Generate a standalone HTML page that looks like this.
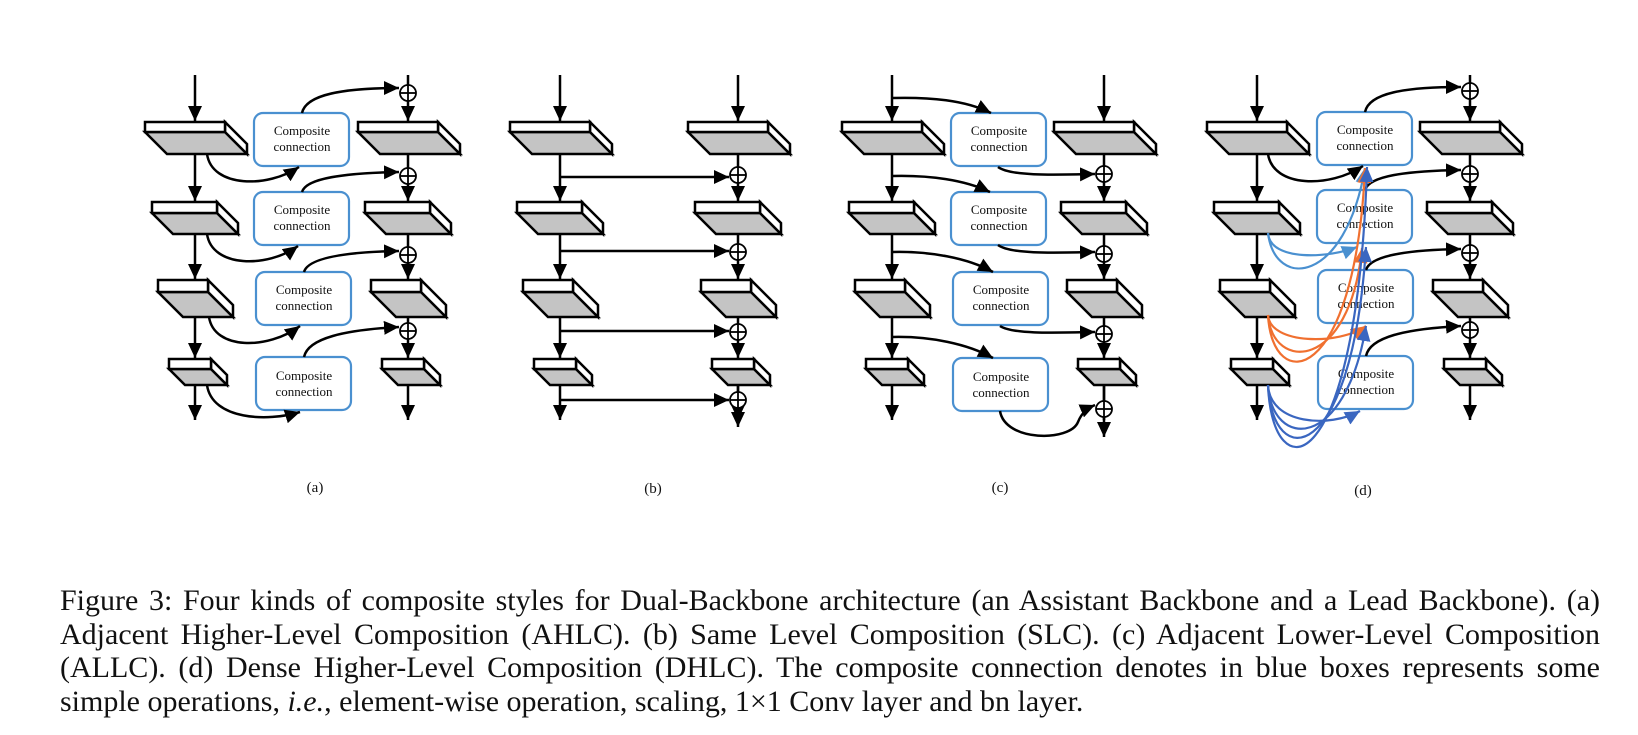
<!DOCTYPE html>
<html><head><meta charset="utf-8"><style>
body{margin:0;background:#fff;width:1638px;height:735px;overflow:hidden;position:relative}
svg{position:absolute;left:0;top:0}
.cap{position:absolute;left:60px;width:1540px;top:584px;font-family:"Liberation Serif",serif;font-size:30px;line-height:33.5px;color:#111}
.cap div{text-align:justify;text-align-last:justify;white-space:nowrap}
.cap div.last{text-align-last:left}
</style></head><body>
<svg width="1638" height="735" viewBox="0 0 1638 735" xmlns="http://www.w3.org/2000/svg">
<defs>
<marker id="ak" markerUnits="userSpaceOnUse" markerWidth="16" markerHeight="14" refX="15" refY="7" orient="auto"><path d="M0,0 L15,7 L0,14 z" fill="#000"/></marker>
<marker id="al" markerUnits="userSpaceOnUse" markerWidth="16" markerHeight="14" refX="15" refY="7" orient="auto"><path d="M0,0 L15,7 L0,14 z" fill="#4a90d0"/></marker>
<marker id="ao" markerUnits="userSpaceOnUse" markerWidth="16" markerHeight="14" refX="15" refY="7" orient="auto"><path d="M0,0 L15,7 L0,14 z" fill="#f07030"/></marker>
<marker id="ad" markerUnits="userSpaceOnUse" markerWidth="16" markerHeight="14" refX="15" refY="7" orient="auto"><path d="M0,0 L15,7 L0,14 z" fill="#3a66c0"/></marker>
<g id="b1" stroke="#000" stroke-width="2.5" stroke-linejoin="miter"><polygon points="0,10 80,10 102,32 22,32" fill="#c4c4c4"/><polygon points="80,0 102,22 102,32 80,10" fill="#fff"/><rect x="0" y="0" width="80" height="10" fill="#fff"/></g>
<g id="b2" stroke="#000" stroke-width="2.5"><polygon points="0,11 65,11 86,32 21,32" fill="#c4c4c4"/><polygon points="65,0 86,21 86,32 65,11" fill="#fff"/><rect x="0" y="0" width="65" height="11" fill="#fff"/></g>
<g id="b3" stroke="#000" stroke-width="2.5"><polygon points="0,12 50,12 75,37 25,37" fill="#c4c4c4"/><polygon points="50,0 75,25 75,37 50,12" fill="#fff"/><rect x="0" y="0" width="50" height="12" fill="#fff"/></g>
<g id="b4" stroke="#000" stroke-width="2.5"><polygon points="0,10 42,10 58,26 16,26" fill="#c4c4c4"/><polygon points="42,0 58,16 58,26 42,10" fill="#fff"/><rect x="0" y="0" width="42" height="10" fill="#fff"/></g>
<g id="colL" fill="none" stroke="#000" stroke-width="2.5">
<line x1="50" y1="75" x2="50" y2="121" marker-end="url(#ak)"/>
<line x1="50" y1="154" x2="50" y2="201" marker-end="url(#ak)"/>
<line x1="50" y1="234" x2="50" y2="279" marker-end="url(#ak)"/>
<line x1="50" y1="317" x2="50" y2="358" marker-end="url(#ak)"/>
<line x1="50" y1="385" x2="50" y2="420" marker-end="url(#ak)"/>
<use href="#b1" x="0" y="122"/><use href="#b2" x="7" y="202"/><use href="#b3" x="13" y="280"/><use href="#b4" x="24" y="359"/>
</g>
<g id="cbox"><rect x="0" y="0" width="95" height="53" rx="9" fill="#fff" stroke="#4a90d0" stroke-width="2.2"/></g>
<g id="plus" fill="#fff" stroke="#000" stroke-width="1.8"><circle cx="0" cy="0" r="8"/><line x1="-8" y1="0" x2="8" y2="0"/><line x1="0" y1="-8" x2="0" y2="8"/></g>
</defs>
<g font-family="Liberation Serif, serif" font-size="13" text-anchor="middle" fill="#111">

<!-- (a) -->
<use href="#colL" x="145"/>
<use href="#colL" x="358"/>
<use href="#plus" x="408" y="93"/><use href="#plus" x="408" y="176"/><use href="#plus" x="408" y="255"/><use href="#plus" x="408" y="331"/>
<use href="#cbox" x="254" y="113"/><use href="#cbox" x="254" y="192"/><use href="#cbox" x="256" y="272"/><use href="#cbox" x="256" y="357"/>
<text x="302" y="135">Composite</text><text x="302" y="151">connection</text>
<text x="302" y="214">Composite</text><text x="302" y="230">connection</text>
<text x="304" y="294">Composite</text><text x="304" y="310">connection</text>
<text x="304" y="380">Composite</text><text x="304" y="396">connection</text>
<g fill="none" stroke="#000" stroke-width="2.5">
<path d="M302,113 C306,94 345,88 399,88" marker-end="url(#ak)"/>
<path d="M302,192 C306,178 345,173 399,172" marker-end="url(#ak)"/>
<path d="M304,272 C308,258 345,252 399,251" marker-end="url(#ak)"/>
<path d="M304,357 C308,338 345,330 399,327" marker-end="url(#ak)"/>
<path d="M207,154 C212,188 268,188 299,167" marker-end="url(#ak)"/>
<path d="M207,234 C212,268 268,268 298,246" marker-end="url(#ak)"/>
<path d="M209,317 C214,350 268,350 300,326" marker-end="url(#ak)"/>
<path d="M207,385 C212,420 268,422 300,412" marker-end="url(#ak)"/>
</g>
<text x="315" y="492" font-size="15">(a)</text>

<!-- (b) -->
<use href="#colL" x="510"/>
<use href="#colL" x="688"/>
<g fill="none" stroke="#000" stroke-width="2.5">
<line x1="738" y1="385" x2="738" y2="427" marker-end="url(#ak)"/>
<line x1="560" y1="177" x2="729" y2="177" marker-end="url(#ak)"/>
<line x1="560" y1="251" x2="729" y2="251" marker-end="url(#ak)"/>
<line x1="560" y1="331" x2="729" y2="331" marker-end="url(#ak)"/>
<line x1="560" y1="400" x2="729" y2="400" marker-end="url(#ak)"/>
</g>
<use href="#plus" x="738" y="175"/><use href="#plus" x="738" y="252"/><use href="#plus" x="738" y="332"/><use href="#plus" x="738" y="400"/>
<text x="653" y="493" font-size="15">(b)</text>

<!-- (c) -->
<use href="#colL" x="842"/>
<use href="#colL" x="1054"/>
<g fill="none" stroke="#000" stroke-width="2.5">
<line x1="1104" y1="385" x2="1104" y2="437" marker-end="url(#ak)"/>
</g>
<use href="#plus" x="1104" y="174"/><use href="#plus" x="1104" y="254"/><use href="#plus" x="1104" y="334"/><use href="#plus" x="1104" y="409"/>
<use href="#cbox" x="951" y="113"/><use href="#cbox" x="951" y="192"/><use href="#cbox" x="953" y="272"/><use href="#cbox" x="953" y="358"/>
<text x="999" y="135">Composite</text><text x="999" y="151">connection</text>
<text x="999" y="214">Composite</text><text x="999" y="230">connection</text>
<text x="1001" y="294">Composite</text><text x="1001" y="310">connection</text>
<text x="1001" y="381">Composite</text><text x="1001" y="397">connection</text>
<g fill="none" stroke="#000" stroke-width="2.5">
<path d="M892,98 C930,97 965,100 991,113" marker-end="url(#ak)"/>
<path d="M892,176 C930,175 965,180 990,192" marker-end="url(#ak)"/>
<path d="M892,252 C930,251 968,258 993,272" marker-end="url(#ak)"/>
<path d="M892,337 C930,336 968,344 993,358" marker-end="url(#ak)"/>
<path d="M998,167 C1010,176 1050,175 1095,174" marker-end="url(#ak)"/>
<path d="M998,245 C1010,254 1050,253 1095,252" marker-end="url(#ak)"/>
<path d="M1000,326 C1012,334 1050,333 1095,332" marker-end="url(#ak)"/>
<path d="M1000,411 C1005,442 1070,442 1078,422 C1082,412 1088,408 1095,405" marker-end="url(#ak)"/>
</g>
<text x="1000" y="492" font-size="15">(c)</text>

<!-- (d) -->
<use href="#colL" x="1207"/>
<use href="#colL" x="1420"/>
<use href="#plus" x="1470" y="91"/><use href="#plus" x="1470" y="174"/><use href="#plus" x="1470" y="253"/><use href="#plus" x="1470" y="330"/>
<use href="#cbox" x="1317" y="112"/><use href="#cbox" x="1317" y="190"/><use href="#cbox" x="1318" y="270"/><use href="#cbox" x="1318" y="356"/>
<text x="1365" y="134">Composite</text><text x="1365" y="150">connection</text>
<text x="1365" y="212">Composite</text><text x="1365" y="228">connection</text>
<text x="1366" y="292">Composite</text><text x="1366" y="308">connection</text>
<text x="1366" y="378">Composite</text><text x="1366" y="394">connection</text>
<g fill="none" stroke="#000" stroke-width="2.5">
<path d="M1365,112 C1369,93 1405,87 1461,87" marker-end="url(#ak)"/>
<path d="M1365,190 C1369,176 1405,171 1461,170" marker-end="url(#ak)"/>
<path d="M1366,270 C1370,256 1405,250 1461,249" marker-end="url(#ak)"/>
<path d="M1366,356 C1370,337 1405,329 1461,326" marker-end="url(#ak)"/>
<path d="M1268,154 C1273,188 1330,188 1363,166" marker-end="url(#ak)"/>
</g>
<g fill="none" stroke-width="2.2">
<path d="M1268,233 C1270,262 1330,258 1357,247" stroke="#4a90d0" marker-end="url(#al)"/>
<path d="M1268,233 C1275,290 1345,285 1365,168" stroke="#4a90d0" marker-end="url(#al)"/>
<path d="M1268,315 C1270,345 1340,345 1366,326" stroke="#f07030" marker-end="url(#ao)"/>
<path d="M1268,315 C1272,372 1350,372 1362,248" stroke="#f07030" marker-end="url(#ao)"/>
<path d="M1268,315 C1272,395 1355,388 1365,168" stroke="#f07030" marker-end="url(#ao)"/>
<path d="M1268,385 C1270,425 1330,428 1360,411" stroke="#3a66c0" marker-end="url(#ad)"/>
<path d="M1268,385 C1272,450 1345,452 1366,326" stroke="#3a66c0" marker-end="url(#ad)"/>
<path d="M1268,385 C1272,472 1352,468 1366,247" stroke="#3a66c0" marker-end="url(#ad)"/>
<path d="M1268,385 C1272,492 1357,485 1367,167" stroke="#3a66c0" marker-end="url(#ad)"/>
</g>
<text x="1363" y="495" font-size="15">(d)</text>
</g>
</svg>
<div class="cap">
<div>Figure 3: Four kinds of composite styles for Dual-Backbone architecture (an Assistant Backbone and a Lead Backbone). (a)</div>
<div>Adjacent Higher-Level Composition (AHLC). (b) Same Level Composition (SLC). (c) Adjacent Lower-Level Composition</div>
<div>(ALLC). (d) Dense Higher-Level Composition (DHLC). The composite connection denotes in blue boxes represents some</div>
<div class="last">simple operations, <i>i.e.</i>, element-wise operation, scaling, 1×1 Conv layer and bn layer.</div>
</div>
</body></html>
